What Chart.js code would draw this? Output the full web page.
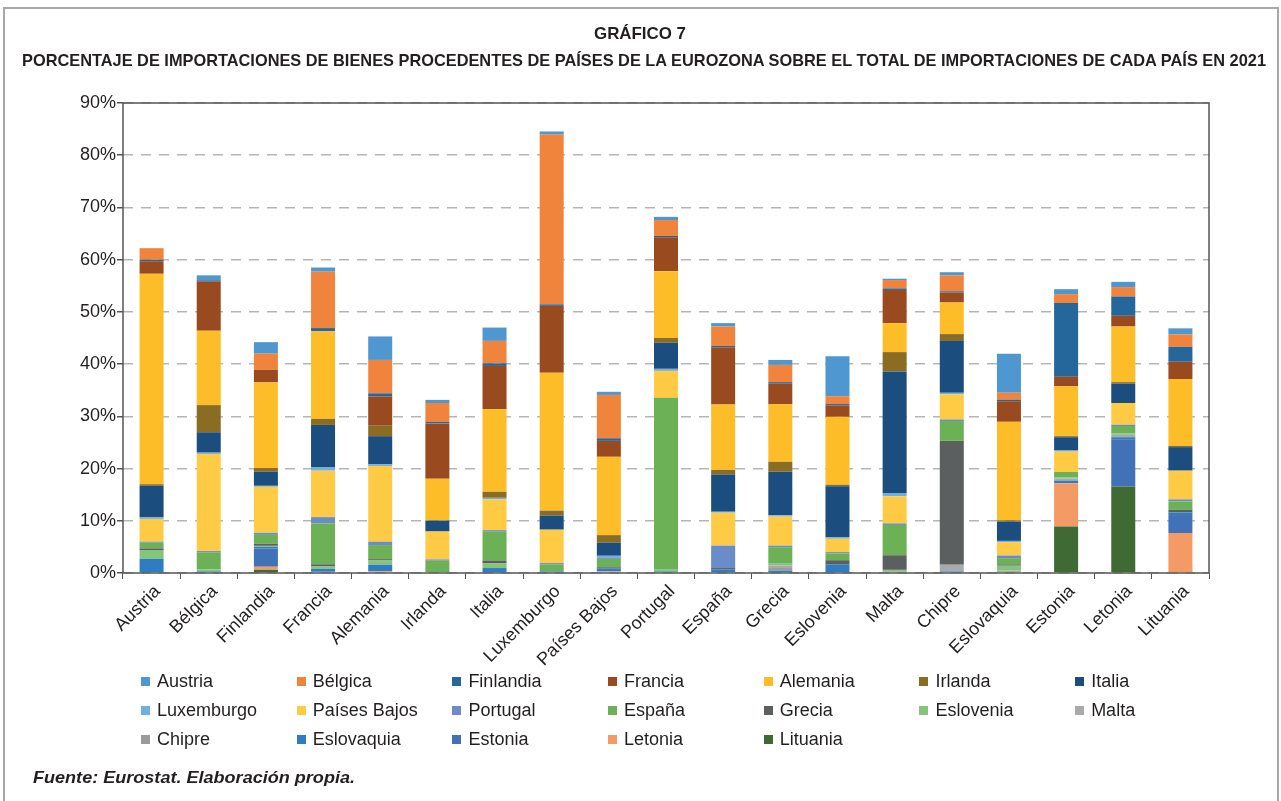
<!DOCTYPE html>
<html lang="es">
<head>
<meta charset="utf-8">
<title>Gráfico 7</title>
<script src="https://cdn.jsdelivr.net/npm/chart.js@4.4.1/dist/chart.umd.min.js"></script>
<style>
  body { margin: 0; background: #fff; font-family: "Liberation Sans", Arial, sans-serif; color: #231f20; }
  #wrap { position: relative; width: 1281px; height: 801px; overflow: hidden; }
  #frame { position: absolute; left: 3px; top: 7px; width: 1272px; height: 800px; border: 2px solid #a8a8a8; border-bottom: none; }
  canvas { position: absolute; left: 0; top: 0; }
  .fit { position: absolute; white-space: nowrap; font-weight: bold; }
  .fit span { display: inline-block; transform-origin: 0 50%; }
  #legend { position: absolute; left: 141px; top: 670px; display: grid; grid-template-columns: repeat(7, 155.7px); row-gap: 7px; font-size: 18px; }
  #legend div { display: flex; align-items: center; height: 22px; }
  #legend i { display: inline-block; width: 9px; height: 9px; margin-right: 7px; }
</style>
</head>
<body>
<div id="wrap">
  <div id="frame"></div>
  <canvas id="grafico" width="1281" height="801"></canvas>
  <div class="fit" id="t1" style="top:24px;font-size:17px"><span>GRÁFICO 7</span></div>
  <div class="fit" id="t2" style="top:51px;font-size:17px"><span>PORCENTAJE DE IMPORTACIONES DE BIENES PROCEDENTES DE PAÍSES DE LA EUROZONA SOBRE EL TOTAL DE IMPORTACIONES DE CADA PAÍS EN 2021</span></div>
  <div id="legend"></div>
  <div class="fit" id="fuente" style="top:768px;font-size:17px;font-style:italic"><span>Fuente: Eurostat. Elaboración propia.</span></div>
</div>
<script>
// países importadores (eje X)
const paises = ["Austria", "Bélgica", "Finlandia", "Francia", "Alemania", "Irlanda", "Italia",
  "Luxemburgo", "Países Bajos", "Portugal", "España", "Grecia", "Eslovenia", "Malta", "Chipre",
  "Eslovaquia", "Estonia", "Letonia", "Lituania"];

const yTicks = [0, 10, 20, 30, 40, 50, 60, 70, 80, 90];

// % de importaciones procedentes de cada socio, por país importador
const austria     = [0, 0.95, 2.2, 0.8, 4.5, 0.6, 2.55, 0.6, 0.6, 0.6, 0.65, 0.95, 7.65, 0.25, 0.6, 7.5, 0.95, 1.0, 1.15];
const belgica     = [2.2, 0, 3.1, 10.8, 6.4, 3.6, 4.3, 32.5, 8.3, 3.05, 3.7, 3.3, 1.5, 1.6, 3.05, 1.3, 1.7, 1.8, 2.4];
const finlandia   = [0.3, 0.25, 0, 0.6, 0.6, 0.3, 0.5, 0.3, 0.5, 0.25, 0.25, 0.3, 0.3, 0.3, 0.25, 0.3, 14.1, 3.7, 2.85];
const francia     = [2.4, 9.4, 2.4, 0, 5.6, 10.6, 8.3, 12.8, 3.05, 6.5, 11.0, 3.95, 2.15, 6.35, 1.9, 3.95, 1.85, 2.05, 3.3];
const alemania    = [40.3, 14.25, 16.4, 16.8, 0, 8.0, 15.8, 26.4, 15.0, 12.8, 12.5, 11.0, 13.0, 5.55, 6.05, 18.85, 9.55, 10.65, 12.8];
const irlanda     = [0.3, 5.2, 0.7, 1.15, 2.0, 0, 1.15, 0.95, 1.45, 0.9, 0.9, 1.9, 0.3, 3.7, 1.3, 0.25, 0.2, 0.3, 0.25];
const italia      = [6.05, 3.9, 2.7, 8.15, 5.4, 2.1, 0, 2.7, 2.5, 5.0, 7.1, 8.35, 9.75, 23.4, 9.95, 3.7, 2.55, 3.7, 4.5];
const luxemburgo  = [0.3, 0.25, 0.2, 0.6, 0.3, 0, 0.3, 0, 0.3, 0.4, 0.2, 0.25, 0.3, 0.5, 0.3, 0.25, 0.2, 0, 0];
const paisesBajos = [4.35, 18.6, 8.8, 8.9, 14.5, 5.35, 5.9, 6.4, 0, 5.15, 6.3, 5.55, 2.55, 5.2, 4.8, 2.55, 3.9, 4.15, 5.5];
const portugal    = [0.2, 0.3, 0.4, 1.15, 0.65, 0.25, 0.3, 0.3, 0.3, 0, 4.3, 0.3, 0.25, 0.3, 0.3, 0.5, 0, 0.25, 0.4];
const espana      = [1.1, 3.2, 1.7, 7.9, 2.7, 2.35, 5.5, 1.3, 1.6, 32.8, 0, 3.05, 1.3, 5.8, 3.8, 1.2, 1.0, 1.4, 1.6];
const grecia      = [0.3, 0, 0.4, 0.4, 0.25, 0, 0.5, 0, 0.2, 0, 0.3, 0, 0.85, 2.8, 23.7, 0.25, 0, 0, 0.5];
const eslovenia   = [1.7, 0.4, 0.2, 0.45, 0.8, 0, 0.95, 0, 0, 0.45, 0, 0.45, 0, 0.3, 0, 0.95, 0.25, 0.3, 0];
const malta       = [0, 0, 0, 0, 0, 0, 0, 0, 0, 0, 0, 0.5, 0, 0, 1.3, 0.45, 0.4, 0.45, 0];
const chipre      = [0, 0, 0, 0, 0, 0, 0, 0, 0, 0, 0, 0.5, 0, 0.3, 0, 0, 0, 0, 0];
const eslovaquia  = [2.7, 0.3, 0.3, 0.5, 1.3, 0, 0.95, 0.3, 0.6, 0.3, 0.65, 0.45, 1.6, 0, 0.3, 0, 0.5, 0.4, 0.5];
const estonia     = [0, 0, 3.5, 0.3, 0, 0, 0, 0, 0, 0, 0, 0, 0, 0, 0, 0, 0, 9.05, 3.45];
const letonia     = [0, 0, 0.6, 0, 0.3, 0, 0, 0, 0.3, 0, 0, 0, 0, 0, 0, 0, 8.3, 0, 7.65];
const lituania    = [0, 0, 0.6, 0, 0, 0, 0, 0, 0, 0, 0, 0, 0, 0, 0, 0, 8.9, 16.55, 0];

// socios en el orden de la leyenda (de arriba abajo en cada barra)
const socios = ["Austria", "Bélgica", "Finlandia", "Francia", "Alemania", "Irlanda", "Italia",
  "Luxemburgo", "Países Bajos", "Portugal", "España", "Grecia", "Eslovenia", "Malta",
  "Chipre", "Eslovaquia", "Estonia", "Letonia", "Lituania"];
const valores = [austria, belgica, finlandia, francia, alemania, irlanda, italia, luxemburgo,
  paisesBajos, portugal, espana, grecia, eslovenia, malta, chipre, eslovaquia, estonia, letonia, lituania];
const colores = ["#4f97d0", "#f0843c", "#25679b", "#9a4a1f", "#fdbd28", "#8b6c23", "#1b4d7e",
  "#6fb0e0", "#ffcb45", "#6a8cc8", "#6cb155", "#5c5f60", "#84c57a", "#a9abab",
  "#9a9a9a", "#2f7cc3", "#4172b8", "#f49a64", "#3f6a34"];

const FONT = "'Liberation Sans', Arial, sans-serif";

// la pila se dibuja desde abajo: Lituania primero, Austria arriba
const datasets = socios.map((s, i) => ({
  label: s,
  data: valores[i],
  backgroundColor: colores[i],
  borderWidth: 0,
  barPercentage: 0.42,
  categoryPercentage: 1.0
})).reverse();

const marco = {
  id: "marco",
  afterDraw(chart) {
    const { ctx, chartArea: a } = chart;
    ctx.save();
    ctx.strokeStyle = "#555";
    ctx.lineWidth = 1.5;
    ctx.strokeRect(a.left, a.top, a.right - a.left, a.bottom - a.top);
    ctx.restore();
  }
};

new Chart(document.getElementById("grafico"), {
  type: "bar",
  data: { labels: paises, datasets: datasets },
  plugins: [marco],
  options: {
    responsive: false,
    animation: false,
    layout: { padding: { top: 103, right: 72, bottom: 118, left: 0 } },
    plugins: { legend: { display: false }, tooltip: { enabled: false } },
    scales: {
      x: {
        stacked: true,
        grid: { drawOnChartArea: false, drawTicks: true, tickLength: 6, color: "#555", offset: true },
        border: { display: false },
        ticks: { color: "#231f20", font: { family: FONT, size: 18 }, minRotation: 45, maxRotation: 45, padding: 2, labelOffset: 6 },
        afterFit(scale) { scale.height = 110; }
      },
      y: {
        stacked: true,
        min: 0,
        max: 90,
        afterBuildTicks(scale) { scale.ticks = yTicks.map(v => ({ value: v })); },
        grid: { color: "#b5b5b5", lineWidth: 1.5, tickLength: 6, tickColor: "#555", drawTicks: true },
        border: { display: false, dash: [10, 8] },
        ticks: { color: "#231f20", font: { family: FONT, size: 18 }, padding: 1, callback: v => v + "%" },
        afterFit(scale) { scale.width = 123; }
      }
    }
  }
});

// leyenda en rejilla
const leyenda = document.getElementById("legend");
socios.forEach((s, i) => {
  const d = document.createElement("div");
  d.innerHTML = '<i style="background:' + colores[i] + '"></i>' + s;
  leyenda.appendChild(d);
});

// títulos estrechos, ajustados a su ancho
function ajustar(id, left, width) {
  const box = document.getElementById(id);
  const span = box.querySelector("span");
  const w = span.getBoundingClientRect().width;
  const k = width / w;
  span.style.transform = "scaleX(" + k + ")";
  box.style.left = left + "px";
}
ajustar("t1", 594, 92);
ajustar("t2", 22, 1244);
ajustar("fuente", 33, 322);
</script>
</body>
</html>
